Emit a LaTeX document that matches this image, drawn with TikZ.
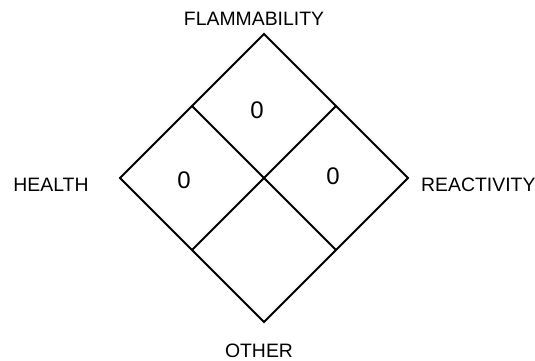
\documentclass[tikz,border=0pt]{standalone}
\usepackage{fontspec}
\setmainfont{Liberation Sans}
\usetikzlibrary{calc}

\begin{document}
\begin{tikzpicture}[x=1pt, y=-1pt,
  labeltext/.style = {anchor=base, inner sep=0pt, font=\fontsize{19.4}{22}\selectfont},
  ratingtext/.style = {inner sep=0pt, font=\fontsize{24}{28}\selectfont},
  diamondline/.style = {draw, line width=2pt, line join=miter}
]
\useasboundingbox (0,0) rectangle (535,360);
\coordinate (top) at (264,34);
\coordinate (right) at (408,178);
\coordinate (bottom) at (264,322);
\coordinate (left) at (120,178);
\coordinate (tl) at ($(top)!0.5!(left)$);
\coordinate (tr) at ($(top)!0.5!(right)$);
\coordinate (bl) at ($(bottom)!0.5!(left)$);
\coordinate (br) at ($(bottom)!0.5!(right)$);
\draw[diamondline] (top) -- (right) -- (bottom) -- (left) -- cycle;
\draw[diamondline] (tl) -- (br);
\draw[diamondline] (tr) -- (bl);
\node[ratingtext] (flam_val) at (257,110) {0};
\node[ratingtext] (health_val) at (184,180) {0};
\node[ratingtext] (react_val) at (333,176) {0};
\node[labeltext] (flam) at (254,25) {FLAMMABILITY};
\node[labeltext] (health) at (51,191) {HEALTH};
\node[labeltext, anchor=base west] (react) at (421,191) {REACTIVITY};
\node[labeltext] (other) at (259,357) {OTHER};
\end{tikzpicture}
\end{document}
